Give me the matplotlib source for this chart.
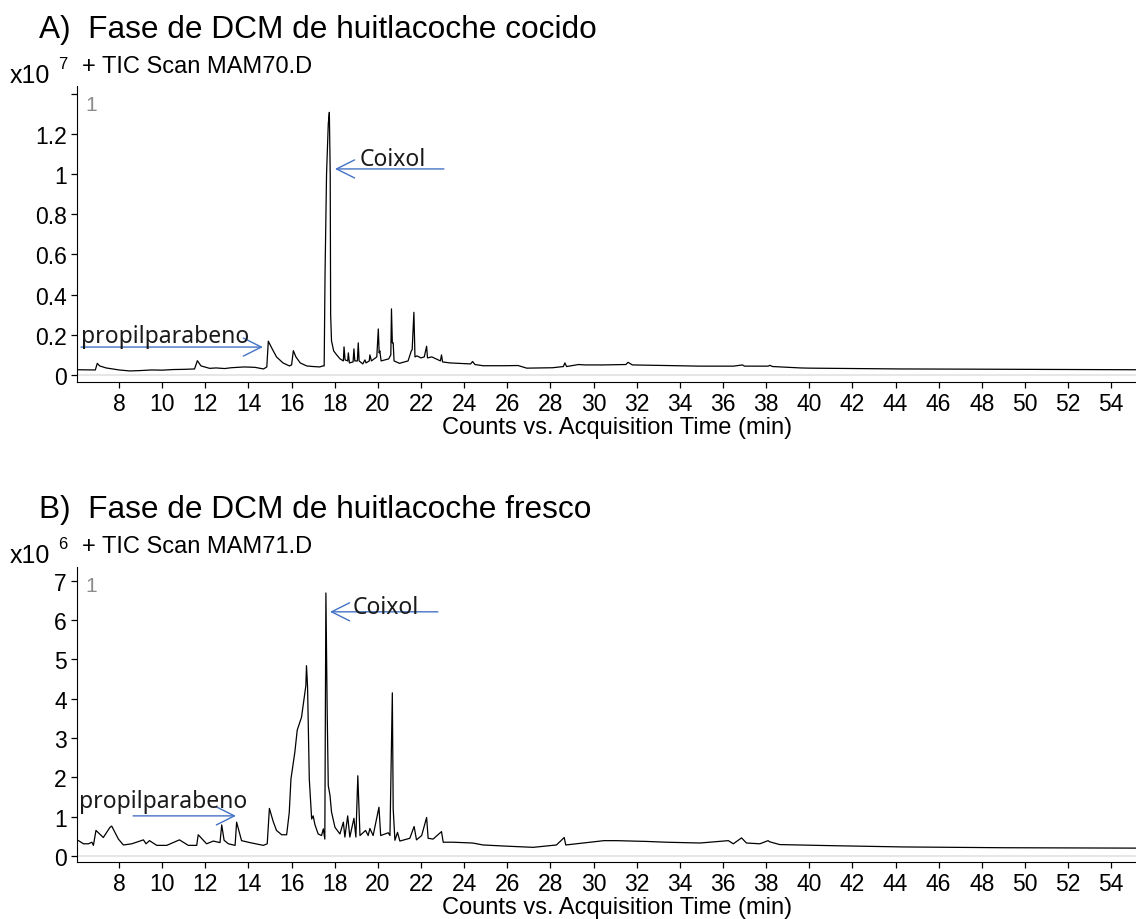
import matplotlib
matplotlib.use("Agg")
import matplotlib.pyplot as plt

W, H = 1136, 920
plt.rcParams['font.family'] = ['Liberation Sans', 'DejaVu Sans']

# panel A: cooked huitlacoche, counts in units of 1e7
time_a = [6.11, 6.9, 6.99, 7.1, 7.4, 8.0, 8.5, 9.0, 9.5, 10.0, 10.5, 11.0, 11.5, 11.63, 11.8,
          12.2, 12.5, 12.9, 13.2, 13.8, 14.3, 14.7, 14.85, 14.92, 15.1, 15.3, 15.6, 15.9, 16.0,
          16.08, 16.2, 16.4, 16.7, 17.0, 17.3, 17.45, 17.51, 17.55, 17.62, 17.7, 17.75, 17.79,
          17.81, 17.85, 17.95, 18.09, 18.25, 18.4, 18.43, 18.48, 18.6, 18.63, 18.68, 18.85,
          18.89, 18.93, 19.05, 19.09, 19.13, 19.3, 19.4, 19.45, 19.6, 19.63, 19.7, 19.95, 20.02,
          20.06, 20.09, 20.15, 20.5, 20.6, 20.63, 20.67, 20.71, 20.75, 21.0, 21.4, 21.55, 21.59,
          21.67, 21.72, 21.81, 22.0, 22.15, 22.26, 22.3, 22.5, 22.9, 22.95, 23.0, 23.34, 23.72,
          24.3, 24.39, 24.5, 24.88, 25.8, 26.5, 26.9, 28.1, 28.6, 28.67, 28.75, 29.3, 29.6,
          30.44, 31.5, 31.6, 31.8, 33.4, 34.9, 36.5, 36.9, 37.0, 38.1, 38.17, 38.3, 39.6, 40.0,
          44.2, 47.3, 55.2]
counts_a = [0.026, 0.025, 0.058, 0.045, 0.035, 0.025, 0.020, 0.022, 0.025, 0.024, 0.027, 0.028,
            0.030, 0.071, 0.045, 0.033, 0.035, 0.032, 0.036, 0.040, 0.038, 0.030, 0.040, 0.168,
            0.13, 0.09, 0.06, 0.045, 0.05, 0.121, 0.09, 0.06, 0.045, 0.042, 0.040, 0.045, 0.045,
            0.5, 1.0, 1.25, 1.308, 1.0, 0.3, 0.17, 0.12, 0.10, 0.08, 0.07, 0.14, 0.075, 0.07,
            0.11, 0.06, 0.065, 0.13, 0.07, 0.07, 0.16, 0.07, 0.055, 0.075, 0.06, 0.07, 0.10,
            0.07, 0.09, 0.229, 0.11, 0.12, 0.07, 0.08, 0.10, 0.329, 0.16, 0.16, 0.07, 0.058,
            0.07, 0.12, 0.126, 0.312, 0.09, 0.095, 0.085, 0.09, 0.143, 0.085, 0.09, 0.07, 0.10,
            0.065, 0.06, 0.058, 0.055, 0.067, 0.052, 0.046, 0.046, 0.047, 0.034, 0.036, 0.042,
            0.06, 0.042, 0.052, 0.05, 0.05, 0.052, 0.063, 0.05, 0.047, 0.044, 0.044, 0.05, 0.044,
            0.044, 0.048, 0.042, 0.035, 0.034, 0.030, 0.029, 0.026]

# panel B: fresh huitlacoche, counts in units of 1e6
time_b = [6.12, 6.35, 6.58, 6.74, 6.81, 6.93, 7.27, 7.58, 7.66, 7.97, 8.2, 8.59, 9.13, 9.25, 9.41,
          9.75, 10.21, 10.8, 11.21, 11.6, 11.67, 12.06, 12.37, 12.68, 12.76, 12.87, 13.07, 13.38,
          13.45, 13.68, 14.07, 14.69, 14.87, 14.97, 15.15, 15.3, 15.54, 15.77, 15.89, 15.97, 16.15,
          16.26, 16.46, 16.66, 16.69, 16.74, 16.82, 16.93, 17.0, 17.08, 17.23, 17.39, 17.47, 17.54,
          17.59, 17.65, 17.7, 17.78, 17.85, 18.01, 18.24, 18.4, 18.47, 18.6, 18.7, 18.89, 18.98,
          19.07, 19.17, 19.43, 19.55, 19.63, 19.78, 20.05, 20.13, 20.48, 20.56, 20.67, 20.71, 20.79,
          20.91, 21.02, 21.48, 21.68, 21.79, 22.03, 22.26, 22.33, 22.56, 22.95, 23.03, 23.49,
          24.39, 24.88, 25.96, 27.2, 28.28, 28.64, 28.71, 29.52, 30.48, 31.06, 32.46, 33.38,
          34.93, 36.25, 36.48, 36.86, 37.09, 37.71, 38.09, 38.17, 38.63, 41.26, 44.35, 48.98, 55.2]
counts_b = [0.39, 0.31, 0.31, 0.35, 0.27, 0.65, 0.47, 0.73, 0.76, 0.43, 0.28, 0.31, 0.41, 0.31,
            0.39, 0.27, 0.27, 0.41, 0.27, 0.27, 0.54, 0.31, 0.38, 0.34, 0.79, 0.40, 0.31, 0.27,
            0.86, 0.39, 0.34, 0.27, 0.31, 1.21, 0.87, 0.65, 0.54, 0.54, 1.10, 1.96, 2.64, 3.20,
            3.53, 4.33, 4.84, 4.30, 1.96, 0.94, 1.02, 0.80, 0.56, 0.52, 0.69, 0.43, 6.69, 3.66,
            1.79, 1.54, 1.12, 0.73, 0.56, 0.86, 0.48, 1.02, 0.48, 0.96, 0.48, 2.04, 0.52, 0.65,
            0.52, 0.70, 0.52, 1.24, 0.52, 0.59, 0.52, 4.15, 1.20, 0.40, 0.60, 0.38, 0.45, 0.75,
            0.41, 0.52, 0.98, 0.45, 0.43, 0.62, 0.35, 0.35, 0.33, 0.28, 0.25, 0.22, 0.28, 0.47,
            0.28, 0.33, 0.39, 0.39, 0.37, 0.35, 0.33, 0.39, 0.31, 0.46, 0.33, 0.31, 0.39, 0.36,
            0.29, 0.26, 0.23, 0.21, 0.20]

x_ticks = list(range(8, 56, 2))
y_ticks_a = [0, 0.2, 0.4, 0.6, 0.8, 1, 1.2, 1.4]
y_labels_a = ['0', '0.2', '0.4', '0.6', '0.8', '1', '1.2', '']
y_ticks_b = [0, 1, 2, 3, 4, 5, 6, 7]

panels = [
    dict(t=time_a, c=counts_a, box=(77, 87, 1136, 383), ylim=(-0.035, 1.439),
         yt=y_ticks_a, yl=y_labels_a, title='A)  Fase de DCM de huitlacoche cocido',
         scan='+ TIC Scan MAM70.D', exp='7', top=0,
         coixol=((18.01, 1.026), (23.06, 1.026), (19.17, 1.046)),
         propil=((14.67, 0.139), (6.24, 0.139), (6.24, 0.164))),
    dict(t=time_b, c=counts_b, box=(77, 568, 1136, 863), ylim=(-0.153, 7.35),
         yt=y_ticks_b, yl=[str(v) for v in y_ticks_b], title='B)  Fase de DCM de huitlacoche fresco',
         scan='+ TIC Scan MAM71.D', exp='6', top=480,
         coixol=((17.78, 6.21), (22.78, 6.21), (18.84, 6.18)),
         propil=((13.42, 1.02), (8.65, 1.02), (6.15, 1.25))),
]

fig = plt.figure(figsize=(W / 100, H / 100), dpi=100)
blue = '#4472c4'
ann_font = ['Noto Sans', 'DejaVu Sans']

for p in panels:
    x0, y0, x1, y1 = p['box']
    ax = fig.add_axes([x0 / W, 1 - y1 / H, (x1 - x0) / W, (y1 - y0) / H])
    ax.axhline(0, color='#e4e4e4', lw=1.3, zorder=1)
    ax.plot(p['t'], p['c'], color='black', lw=0.9, zorder=2)
    ax.set_xlim(6.05, 55.15)
    ax.set_ylim(*p['ylim'])
    ax.set_xticks(x_ticks)
    ax.set_yticks(p['yt'])
    ax.set_yticklabels(p['yl'])
    for s in ['top', 'right']:
        ax.spines[s].set_visible(False)
    ax.tick_params(labelsize=16.5, length=4.3, width=0.9, pad=3)
    ax.tick_params(axis='x', pad=3)
    ax.set_xlabel('Counts vs. Acquisition Time (min)', fontsize=17)
    # label top sits about 34 px under the x axis line
    ax.xaxis.set_label_coords((617 - x0) / (x1 - x0), -34 / (y1 - y0))
    ax.text(0.008, 0.97, '1', transform=ax.transAxes, color='#8c8c8c', fontsize=15,
            va='top', ha='left')

    for key in ['coixol', 'propil']:
        head, tail, txt = p[key]
        ax.annotate('', xy=head, xytext=tail,
                    arrowprops=dict(arrowstyle='->,head_length=1.0,head_width=0.5',
                                    mutation_scale=13, color=blue, lw=1.0,
                                    shrinkA=0, shrinkB=0))
        label = 'Coixol' if key == 'coixol' else 'propilparabeno'
        ax.text(txt[0], txt[1], label, fontsize=16.5, family=ann_font, color='#1a1a1a',
                ha='left', va='baseline')

    top = p['top']
    fig.text(39 / W, 1 - (top + 38) / H, p['title'], fontsize=22.8, va='baseline')
    fig.text(82 / W, 1 - (top + 73) / H, p['scan'], fontsize=17, va='baseline')
    fig.text(10 / W, 1 - (top + 83) / H, 'x10', fontsize=18, va='baseline')
    fig.text(58 / W, 1 - (top + 69) / H, p['exp'], fontsize=12, va='baseline')

fig.savefig('out.png', dpi=100)
